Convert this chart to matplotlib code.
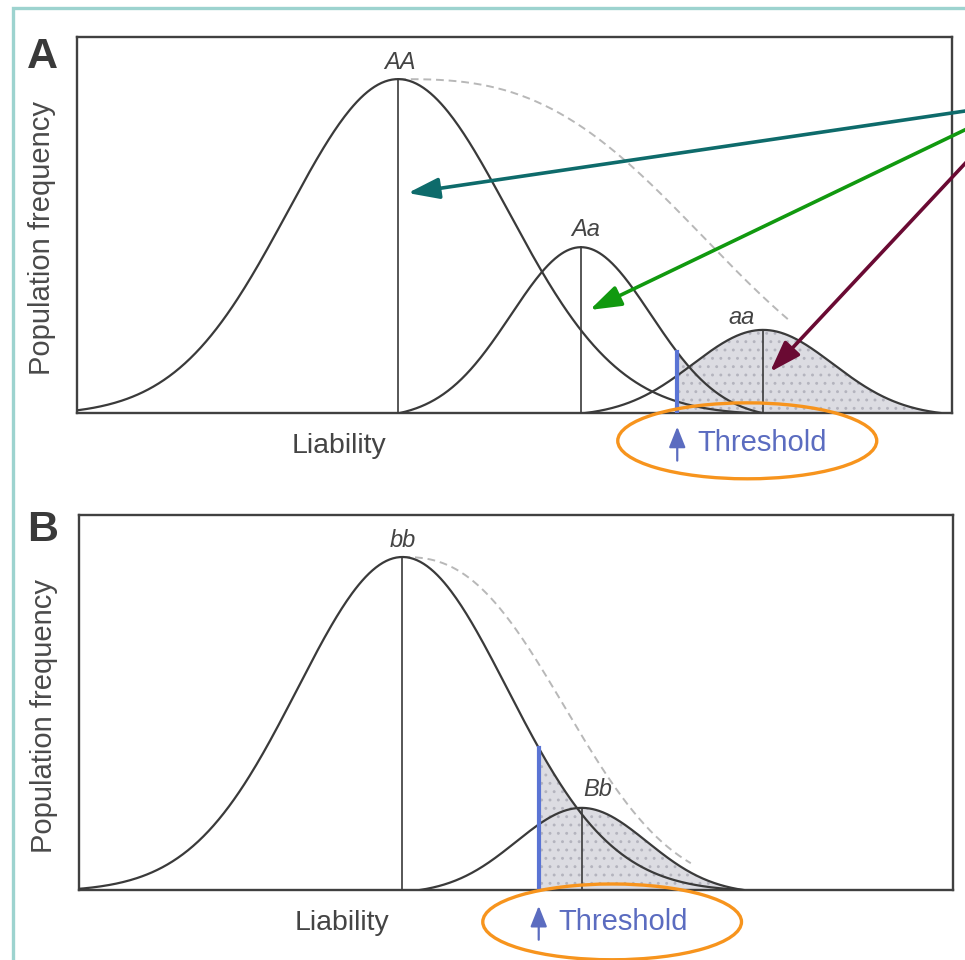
# Liability-threshold model: two panels (A: one locus, B: second locus)
import numpy as np
import matplotlib
matplotlib.use("Agg")
import matplotlib.pyplot as plt
from matplotlib.patches import Ellipse, Rectangle

plt.rcParams["font.family"] = ["Liberation Sans", "DejaVu Sans"]
plt.rcParams["hatch.linewidth"] = 0.9
plt.rcParams["hatch.color"] = "#b4b4be"

# ─────────────────────────────────────────────────────────────────────────────
# Data (liability on a 0-100 scale, frequency on a 0-100 scale)
# ─────────────────────────────────────────────────────────────────────────────
GENO_A = ["AA", "Aa", "aa"]
MEAN_A = [36.7, 57.6, 78.4]
SD_A = [12.6, 8.0, 8.0]
PEAK_A = [88.8, 44.1, 22.1]
SPAN_A = [40.0, 20.7, 20.3]      # half-width at which the curve meets the baseline
THRESH_A = 68.6
DASH_A = [40.9, 2.8, 81.5]       # scale, shape, end of the dashed envelope

GENO_B = ["bb", "Bb"]
MEAN_B = [37.0, 57.5]
SD_B = [12.0, 7.5]
PEAK_B = [88.8, 21.9]
SPAN_B = [39.0, 18.5]
THRESH_B = 52.6
DASH_B = [22.8, 2.5, 70.0]

# layout only: label offsets from (mean, peak)
LAB_DX_A = [0.2, 0.5, -2.4]
LAB_DY_A = [4.3, 4.6, 3.2]
LAB_DX_B = [0.1, 1.8]
LAB_DY_B = [4.5, 4.8]

W, H = 965, 960
INK = "#3a3a3a"
BLUE = "#5a74d4"
TXT_BLUE = "#5b6cc0"
ORANGE = "#f7941d"


def bump(x, mu, sd, peak, span):
    g = np.exp(-0.5 * ((x - mu) / sd) ** 2)
    g0 = np.exp(-0.5 * (span / sd) ** 2)
    return peak * (g - g0) / (1 - g0)


def draw_panel(ax, geno, mean, sd, peak, span, thresh, dash, ldx, ldy):
    ax.set_xlim(0, 100)
    ax.set_ylim(0, 100)
    ax.set_xticks([])
    ax.set_yticks([])
    for s in ax.spines.values():
        s.set_linewidth(1.7)
        s.set_color("#404040")

    # shaded tail beyond the threshold (under the highest curve)
    x_end = max(m + s for m, s in zip(mean, span))
    xs = np.linspace(thresh, x_end, 400)
    ytop = np.zeros_like(xs)
    for m, s, p, sp in zip(mean, sd, peak, span):
        inside = np.abs(xs - m) <= sp
        ytop = np.where(inside, np.maximum(ytop, bump(xs, m, s, p, sp)), ytop)
    ax.fill_between(xs, 0, ytop, facecolor="#dcdce2", edgecolor="#b4b4be",
                    hatch="..", linewidth=0, zorder=1)

    # dashed envelope from the first peak
    xd = np.linspace(mean[0], dash[2], 200)
    yd = peak[0] * np.exp(-(np.abs(xd - mean[0]) / dash[0]) ** dash[1])
    ax.plot(xd, yd, color="#b8b8b8", lw=1.4, dashes=(4, 2.5), zorder=2)

    # genotype curves, mean lines and labels
    for g, m, s, p, sp, dx, dy in zip(geno, mean, sd, peak, span, ldx, ldy):
        xc = np.linspace(m - sp, m + sp, 400)
        ax.plot(xc, bump(xc, m, s, p, sp), color=INK, lw=1.6, zorder=3)
        ax.plot([m, m], [0, p], color=INK, lw=1.2, zorder=3)
        ax.text(m + dx, p + dy, g, style="italic", fontsize=17,
                color="#444444", ha="center", va="center")

    # threshold line
    ymax = max(bump(thresh, m, s, p, sp) for m, s, p, sp in zip(mean, sd, peak, span)
               if abs(thresh - m) <= sp)
    ax.plot([thresh, thresh], [0, ymax], color=BLUE, lw=3.0, zorder=4)


fig = plt.figure(figsize=(W / 100, H / 100), dpi=100)

# teal frame round the figure (runs off right/bottom edge)
fig.patches.append(Rectangle((13 / W, -0.05), 1.2, 1 - 8 / H + 0.05,
                             transform=fig.transFigure, fill=False,
                             edgecolor="#9dd3cf", lw=2.4))

axA = fig.add_axes([77 / W, 1 - 413 / H, 875 / W, 376 / H])
axB = fig.add_axes([79 / W, 1 - 890 / H, 874 / W, 375 / H])

draw_panel(axA, GENO_A, MEAN_A, SD_A, PEAK_A, SPAN_A, THRESH_A, DASH_A, LAB_DX_A, LAB_DY_A)
draw_panel(axB, GENO_B, MEAN_B, SD_B, PEAK_B, SPAN_B, THRESH_B, DASH_B, LAB_DX_B, LAB_DY_B)

# ── axis texts, threshold notes, orange ellipses ─────────────────────────────
for ax, thr, tx, ty, arr0, arr1, ell, lx in [
        (axA, THRESH_A, 70.9, -8.0, -2.9, -13.4, (76.6, -7.4), 29.9),
        (axB, THRESH_B, 54.8, -8.5, -3.5, -14.0, (61.0, -8.5), 30.1)]:
    ax.text(lx, -8.8, "Liability", fontsize=20.5, color="#444444",
            ha="center", va="center", clip_on=False)
    ax.text(-0.04, 0.465, "Population frequency", transform=ax.transAxes,
            rotation=90, fontsize=21, color="#4a4a4a", ha="center", va="center")
    ax.annotate("", xy=(thr, arr0), xytext=(thr, arr1), annotation_clip=False,
                arrowprops=dict(arrowstyle="-|>,head_length=0.7,head_width=0.28",
                                mutation_scale=18, color=TXT_BLUE, lw=1.6))
    ax.text(tx, ty, "Threshold", fontsize=21, color=TXT_BLUE,
            ha="left", va="center", clip_on=False)
    ax.add_patch(Ellipse(ell, 29.6, 20.2, fill=False, edgecolor=ORANGE,
                         lw=2.4, clip_on=False, zorder=5))

fig.text(42 / W, 1 - 57 / H, "A", fontsize=31, fontweight="bold",
         color="#3a3a3a", ha="center", va="center")
fig.text(43 / W, 1 - 530 / H, "B", fontsize=31, fontweight="bold",
         color="#3a3a3a", ha="center", va="center")

# ── coloured pointer arrows (coming in from the right edge) ──────────────────
ARROW_TIPS = [(37.8, 58.5), (58.6, 27.4), (79.2, 10.9)]
ARROW_TAILS = [(103.8, 81.1), (103.8, 77.9), (103.8, 72.1)]
ARROW_COLORS = ["#0e6b6b", "#11990f", "#6a0a33"]
for tip, tail, c in zip(ARROW_TIPS, ARROW_TAILS, ARROW_COLORS):
    axA.annotate("", xy=tip, xytext=tail, annotation_clip=False,
                 arrowprops=dict(arrowstyle="-|>,head_length=0.95,head_width=0.32",
                                 mutation_scale=20, color=c, lw=2.6,
                                 shrinkA=0, shrinkB=0), zorder=6)

fig.savefig("out.png", dpi=100)
